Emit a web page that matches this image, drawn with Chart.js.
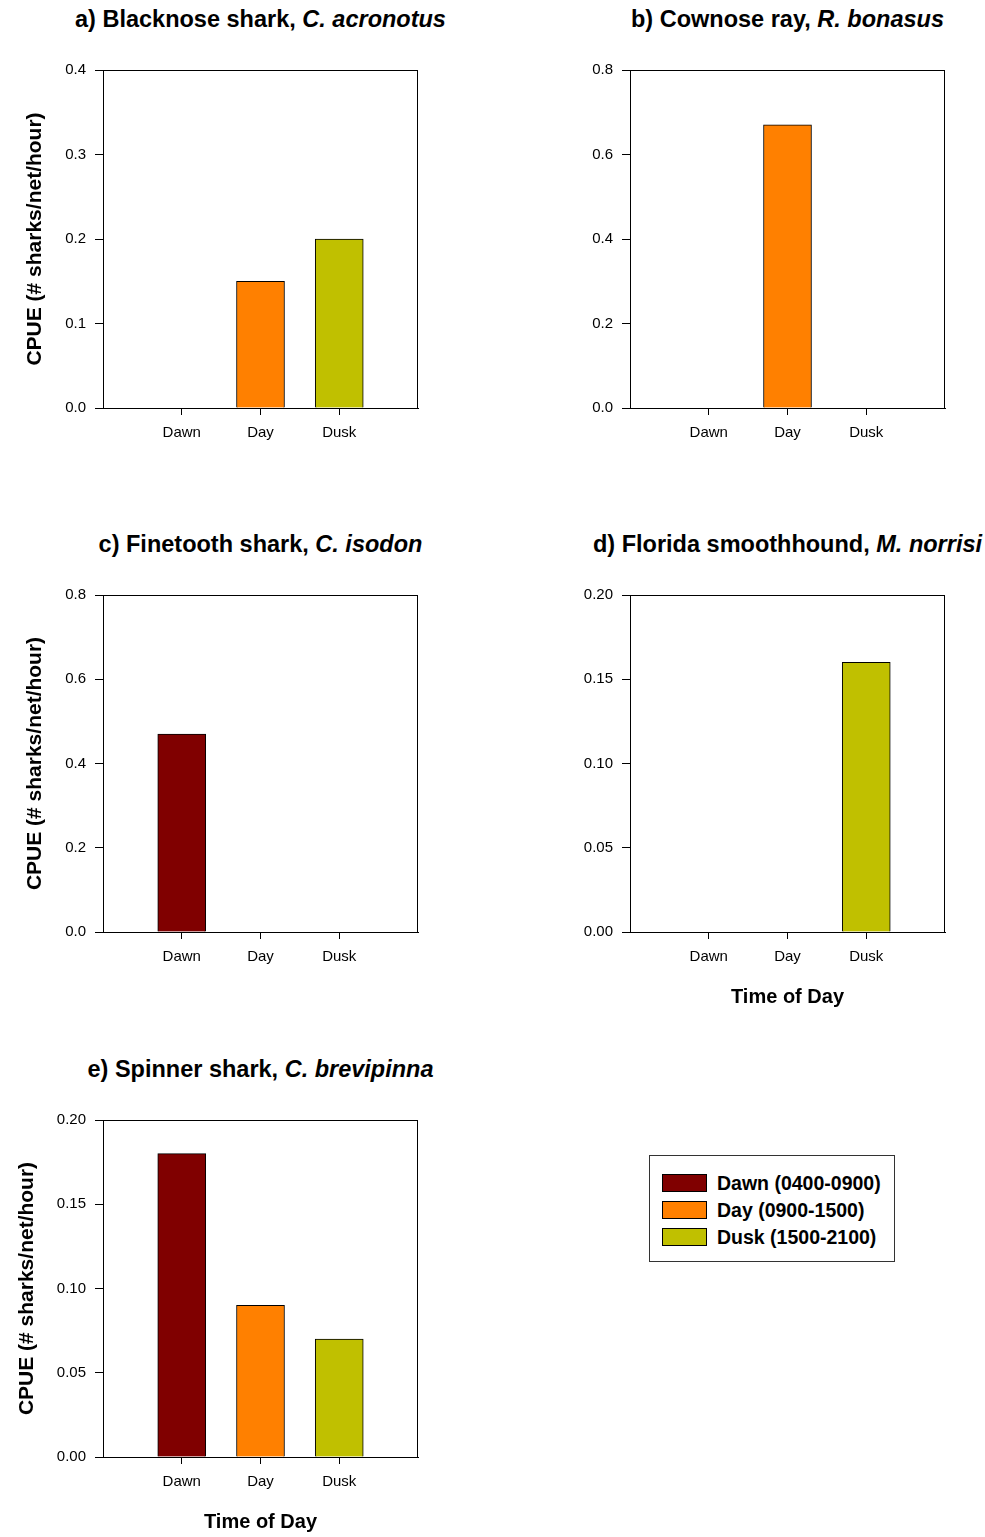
<!DOCTYPE html>
<html>
<head>
<meta charset="utf-8">
<script src="https://cdn.jsdelivr.net/npm/chart.js@4.4.1/dist/chart.umd.min.js"></script>
<style>
  body { margin: 0; background: #fff; font-family: "Liberation Sans", Arial, sans-serif; }
  #page { position: relative; width: 985px; height: 1537px; }
  canvas { position: absolute; }
  .ptitle { position: absolute; width: 600px; text-align: center; white-space: nowrap;
            font-weight: bold; font-size: 23.5px; line-height: 28px; color: #000; }
  .ptitle i { font-style: italic; }
  #legend { position: absolute; left: 649px; top: 1155px; width: 244px; height: 105px;
            border: 1px solid #333; }
  .lrow { position: absolute; left: 12px; height: 20px; font-weight: bold; font-size: 19.5px;
          line-height: 20px; white-space: nowrap; color: #000; }
  .lrow span { display: inline-block; width: 43px; height: 16px; border: 1px solid #000;
               vertical-align: -2px; margin-right: 10px; }
</style>
</head>
<body>
<div id="page"></div>
<script>
// categories and legend
const timeLabels = ['Dawn', 'Day', 'Dusk'];
const legendLabels = ['Dawn (0400-0900)', 'Day (0900-1500)', 'Dusk (1500-2100)'];
const barColors = ['#800000', '#FF8000', '#C0C000'];

// CPUE per time of day (Dawn, Day, Dusk)
const blacknoseCpue = [0, 0.15, 0.20];
const cownoseCpue = [0, 0.67, 0];
const finetoothCpue = [0.47, 0, 0];
const smoothhoundCpue = [0, 0, 0.16];
const spinnerCpue = [0.18, 0.09, 0.07];

// y tick labels
const ticksTenths = ['0.0', '0.1', '0.2', '0.3', '0.4'];
const ticksFifths = ['0.0', '0.2', '0.4', '0.6', '0.8'];
const ticksTwentieths = ['0.00', '0.05', '0.10', '0.15', '0.20'];

const yTitle = 'CPUE (# sharks/net/hour)';
const xTitle = 'Time of Day';

const panels = [
  {name: 'a) Blacknose shark, ', sci: 'C. acronotus', data: blacknoseCpue, ticks: ticksTenths,
   left: 0, top: 70, h: 338, yTitle: true, xTitle: false, yTitlePad: 23},
  {name: 'b) Cownose ray, ', sci: 'R. bonasus', data: cownoseCpue, ticks: ticksFifths,
   left: 527, top: 70, h: 338, yTitle: false, xTitle: false},
  {name: 'c) Finetooth shark, ', sci: 'C. isodon', data: finetoothCpue, ticks: ticksFifths,
   left: 0, top: 595, h: 337, yTitle: true, xTitle: false, yTitlePad: 23},
  {name: 'd) Florida smoothhound, ', sci: 'M. norrisi', data: smoothhoundCpue, ticks: ticksTwentieths,
   left: 527, top: 595, h: 337, yTitle: false, xTitle: true},
  {name: 'e) Spinner shark, ', sci: 'C. brevipinna', data: spinnerCpue, ticks: ticksTwentieths,
   left: 0, top: 1120, h: 337, yTitle: true, xTitle: true, yTitlePad: 15}
];

const font = '"Liberation Sans", Arial, sans-serif';
const page = document.getElementById('page');
// space chart.js leaves above the plot area for the top tick label
const topPad = 18;

const frame = {
  id: 'frame',
  afterDraw(chart) {
    const a = chart.chartArea;
    const c = chart.ctx;
    c.save();
    c.strokeStyle = '#000';
    c.lineWidth = 1;
    c.strokeRect(Math.round(a.left) + 0.5, Math.round(a.top) + 0.5,
                 Math.round(a.right - a.left) - 1, Math.round(a.bottom - a.top));
    c.restore();
  }
};

panels.forEach(p => {
  const title = document.createElement('div');
  title.className = 'ptitle';
  title.style.left = (p.left + 103 + 157.5 - 300) + 'px';
  title.style.top = (p.top - 65) + 'px';
  title.innerHTML = p.name + '<i>' + p.sci + '</i>';
  page.appendChild(title);

  const xh = p.xTitle ? 80 : 45;
  const canvas = document.createElement('canvas');
  canvas.width = 460;
  canvas.height = topPad + p.h + xh;
  canvas.style.left = p.left + 'px';
  canvas.style.top = (p.top - topPad) + 'px';
  page.appendChild(canvas);

  const tickVals = p.ticks.map(Number);
  const labels = [''].concat(timeLabels, ['']);

  new Chart(canvas, {
    type: 'bar',
    data: {
      labels: labels,
      datasets: [{
        data: [null].concat(p.data, [null]),
        backgroundColor: [null].concat(barColors, [null]),
        borderColor: '#000',
        borderWidth: 1,
        barThickness: 48
      }]
    },
    options: {
      responsive: false,
      animation: false,
      layout: {padding: {top: 0, right: 42, left: 0, bottom: 0}},
      plugins: {legend: {display: false}, tooltip: {enabled: false}},
      scales: {
        x: {
          offset: false,
          grid: {
            offset: false, drawOnChartArea: false, tickLength: 7,
            tickColor: ctx => (ctx.tick && ctx.tick.label) ? '#000' : 'rgba(0,0,0,0)'
          },
          border: {color: '#000', width: 1},
          ticks: {color: '#000', font: {family: font, size: 15}, padding: 9,
                  autoSkip: false, maxRotation: 0},
          title: {display: p.xTitle, text: xTitle, color: '#000',
                  font: {family: font, size: 20, weight: 'bold'}, padding: {top: 3, bottom: 3}},
          afterFit: s => { s.height = xh; }
        },
        y: {
          min: tickVals[0],
          max: tickVals[tickVals.length - 1],
          afterBuildTicks: s => { s.ticks = tickVals.map(v => ({value: v})); },
          grid: {drawOnChartArea: false, tickLength: 8, tickColor: '#000'},
          border: {color: '#000', width: 1},
          ticks: {color: '#000', font: {family: font, size: 15}, padding: 9,
                  callback: (v, i) => p.ticks[i]},
          title: {display: p.yTitle, text: yTitle, color: '#000',
                  font: {family: font, size: 21, weight: 'bold'},
                  padding: {top: p.yTitlePad || 0, bottom: 0}},
          afterFit: s => { s.width = 103; }
        }
      }
    },
    plugins: [frame]
  });
});

const legend = document.createElement('div');
legend.id = 'legend';
legendLabels.forEach((t, i) => {
  const row = document.createElement('div');
  row.className = 'lrow';
  row.style.top = (17 + i * 27) + 'px';
  row.innerHTML = '<span style="background:' + barColors[i] + '"></span>' + t;
  legend.appendChild(row);
});
page.appendChild(legend);
</script>
</body>
</html>
